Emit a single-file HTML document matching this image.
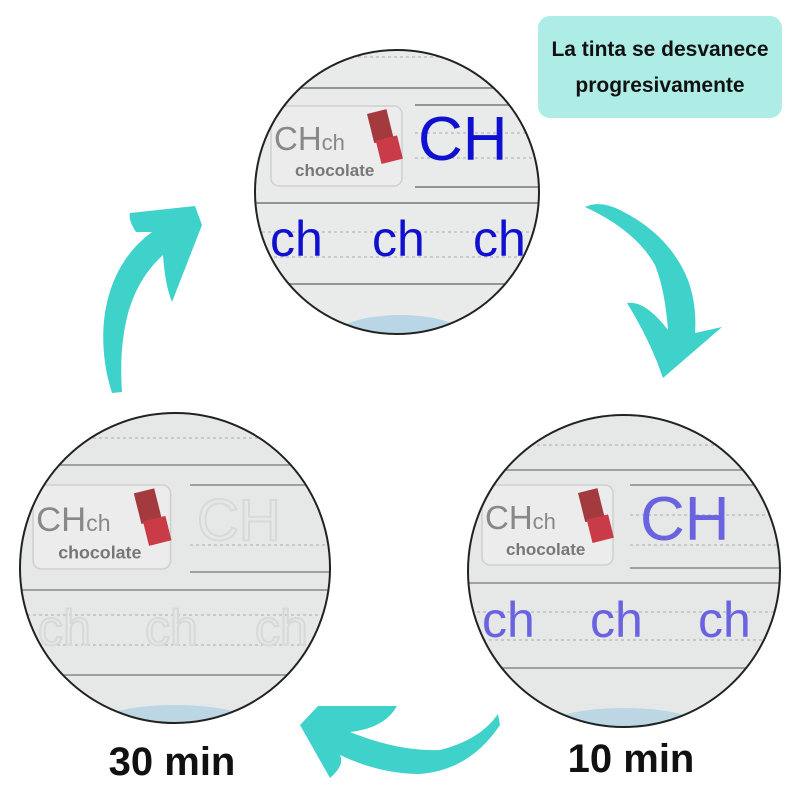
<!DOCTYPE html>
<html><head><style>
body{margin:0;background:#fff;width:800px;height:800px;overflow:hidden;font-family:"Liberation Sans",sans-serif}
</style></head><body>
<svg width="800" height="800" viewBox="0 0 800 800" xmlns="http://www.w3.org/2000/svg">
<defs>
<clipPath id="c1"><circle cx="397" cy="192" r="142"/></clipPath>
<clipPath id="c2"><circle cx="175" cy="568" r="155"/></clipPath>
<clipPath id="c3"><circle cx="624" cy="571" r="156"/></clipPath>
<g id="card">
  <rect x="0" y="0" width="131" height="80" rx="8" fill="#ececec" stroke="#cfcfcf" stroke-width="1.5"/>
  <text x="3" y="44" font-size="33" fill="#888" font-family="Liberation Sans">CH<tspan font-size="22">ch</tspan></text>
  <text x="24" y="70" font-size="17" fill="#777" font-weight="bold">chocolate</text>
  <g transform="translate(96,8) rotate(-14)">
    <rect x="0" y="0" width="20" height="30" fill="#a33a3e"/>
    <rect x="2" y="28" width="22" height="24" fill="#c83b47"/>
  </g>
</g>
</defs>

<!-- top circle -->
<g clip-path="url(#c1)">
<rect x="250" y="45" width="300" height="300" fill="#e9ebeb"/>
<line x1="250" y1="88" x2="550" y2="88" stroke="#777" stroke-width="1.5"/>
<line x1="250" y1="57" x2="550" y2="57" stroke="#aaa" stroke-dasharray="3 3"/>
<g transform="translate(271,106)"><use href="#card"/></g>
<line x1="415" y1="105" x2="550" y2="105" stroke="#777" stroke-width="1.5"/>
<line x1="415" y1="133" x2="550" y2="133" stroke="#aaa" stroke-dasharray="3 3"/>
<line x1="415" y1="158" x2="550" y2="158" stroke="#aaa" stroke-dasharray="3 3"/>
<line x1="415" y1="187" x2="550" y2="187" stroke="#777" stroke-width="1.5"/>
<text x="418" y="160" font-size="62" fill="#1010d0">CH</text>
<line x1="250" y1="203" x2="550" y2="203" stroke="#777" stroke-width="1.5"/>
<line x1="250" y1="232" x2="550" y2="232" stroke="#aaa" stroke-dasharray="3 3"/>
<line x1="250" y1="257" x2="550" y2="257" stroke="#aaa" stroke-dasharray="3 3"/>
<line x1="250" y1="284" x2="550" y2="284" stroke="#777" stroke-width="1.5"/>
<g font-size="50" fill="#1010d0"><text x="270" y="256">ch</text><text x="372" y="256">ch</text><text x="473" y="256">ch</text></g>
<ellipse cx="400" cy="340" rx="70" ry="25" fill="#b9d6e6"/>
</g>
<circle cx="397" cy="192" r="142" fill="none" stroke="#222" stroke-width="2"/>

<!-- bottom left -->
<g clip-path="url(#c2)">
<rect x="15" y="405" width="320" height="330" fill="#e6e8e8"/>
<line x1="15" y1="438" x2="335" y2="438" stroke="#aaa" stroke-dasharray="3 3"/>
<line x1="15" y1="465" x2="335" y2="465" stroke="#888" stroke-width="1.5"/>
<g transform="translate(33,485) scale(1.05)"><use href="#card"/></g>
<line x1="190" y1="485" x2="335" y2="485" stroke="#888" stroke-width="1.5"/>
<line x1="190" y1="545" x2="335" y2="545" stroke="#aaa" stroke-dasharray="3 3"/>
<line x1="190" y1="572" x2="335" y2="572" stroke="#888" stroke-width="1.5"/>
<text x="197" y="540" font-size="58" fill="none" stroke="#d8d8d8" stroke-width="2">CH</text>
<line x1="15" y1="590" x2="335" y2="590" stroke="#888" stroke-width="1.5"/>
<line x1="15" y1="615" x2="335" y2="615" stroke="#aaa" stroke-dasharray="3 3"/>
<line x1="15" y1="645" x2="335" y2="645" stroke="#aaa" stroke-dasharray="3 3"/>
<line x1="15" y1="675" x2="335" y2="675" stroke="#888" stroke-width="1.5"/>
<g font-size="50" fill="none" stroke="#d8d8d8" stroke-width="2"><text x="38" y="645">ch</text><text x="145" y="645">ch</text><text x="255" y="645">ch</text></g>
<ellipse cx="175" cy="725" rx="80" ry="20" fill="#bcd6e4"/>
</g>
<circle cx="175" cy="568" r="155" fill="none" stroke="#222" stroke-width="2"/>

<!-- bottom right -->
<g clip-path="url(#c3)">
<rect x="465" y="410" width="320" height="330" fill="#e6e8e8"/>
<line x1="465" y1="445" x2="785" y2="445" stroke="#aaa" stroke-dasharray="3 3"/>
<line x1="465" y1="470" x2="785" y2="470" stroke="#888" stroke-width="1.5"/>
<g transform="translate(482,485)"><use href="#card"/></g>
<line x1="630" y1="485" x2="785" y2="485" stroke="#888" stroke-width="1.5"/>
<line x1="630" y1="515" x2="785" y2="515" stroke="#aaa" stroke-dasharray="3 3"/>
<line x1="630" y1="545" x2="785" y2="545" stroke="#aaa" stroke-dasharray="3 3"/>
<line x1="630" y1="568" x2="785" y2="568" stroke="#888" stroke-width="1.5"/>
<text x="640" y="540" font-size="62" fill="#6a63e0">CH</text>
<line x1="465" y1="583" x2="785" y2="583" stroke="#888" stroke-width="1.5"/>
<line x1="465" y1="612" x2="785" y2="612" stroke="#aaa" stroke-dasharray="3 3"/>
<line x1="465" y1="640" x2="785" y2="640" stroke="#aaa" stroke-dasharray="3 3"/>
<line x1="465" y1="668" x2="785" y2="668" stroke="#888" stroke-width="1.5"/>
<g font-size="50" fill="#6a63e0"><text x="482" y="637">ch</text><text x="590" y="637">ch</text><text x="698" y="637">ch</text></g>
<ellipse cx="624" cy="728" rx="80" ry="20" fill="#bcd6e4"/>
</g>
<circle cx="624" cy="571" r="156" fill="none" stroke="#222" stroke-width="2"/>

<!-- arrows -->
<g fill="#3fd2cb">
<path d="M585 207 Q600 200 620 210 Q670 235 688 280 Q697 305 695 333 L722 327 L663 378 Q650 340 627 303 Q645 300 668 330 Q665 290 655 265 Q635 230 585 207 Z"/>
<path d="M112 393 C95 340 100 270 152 232 L136 232 Q128 220 130 213 L195 206 L202 225 L172 302 Q165 285 163 255 C130 285 118 330 122 392 Z"/>
<path d="M300 725 L318 706 L397 706 Q385 728 350 732 Q400 752 440 750 Q480 740 498 714 L500 725 Q470 770 420 774 Q380 774 340 755 Q345 765 330 778 Z"/>
</g>

<!-- callout -->
<rect x="538" y="16" width="244" height="102" rx="12" fill="#aeece6"/>
<text x="660" y="56" text-anchor="middle" font-size="21" font-weight="bold" fill="#111">La tinta se desvanece</text>
<text x="660" y="92" text-anchor="middle" font-size="21" font-weight="bold" fill="#111">progresivamente</text>

<text x="172" y="775" text-anchor="middle" font-size="40" font-weight="bold" fill="#111">30 min</text>
<text x="631" y="772" text-anchor="middle" font-size="40" font-weight="bold" fill="#111">10 min</text>
</svg>
</body></html>
